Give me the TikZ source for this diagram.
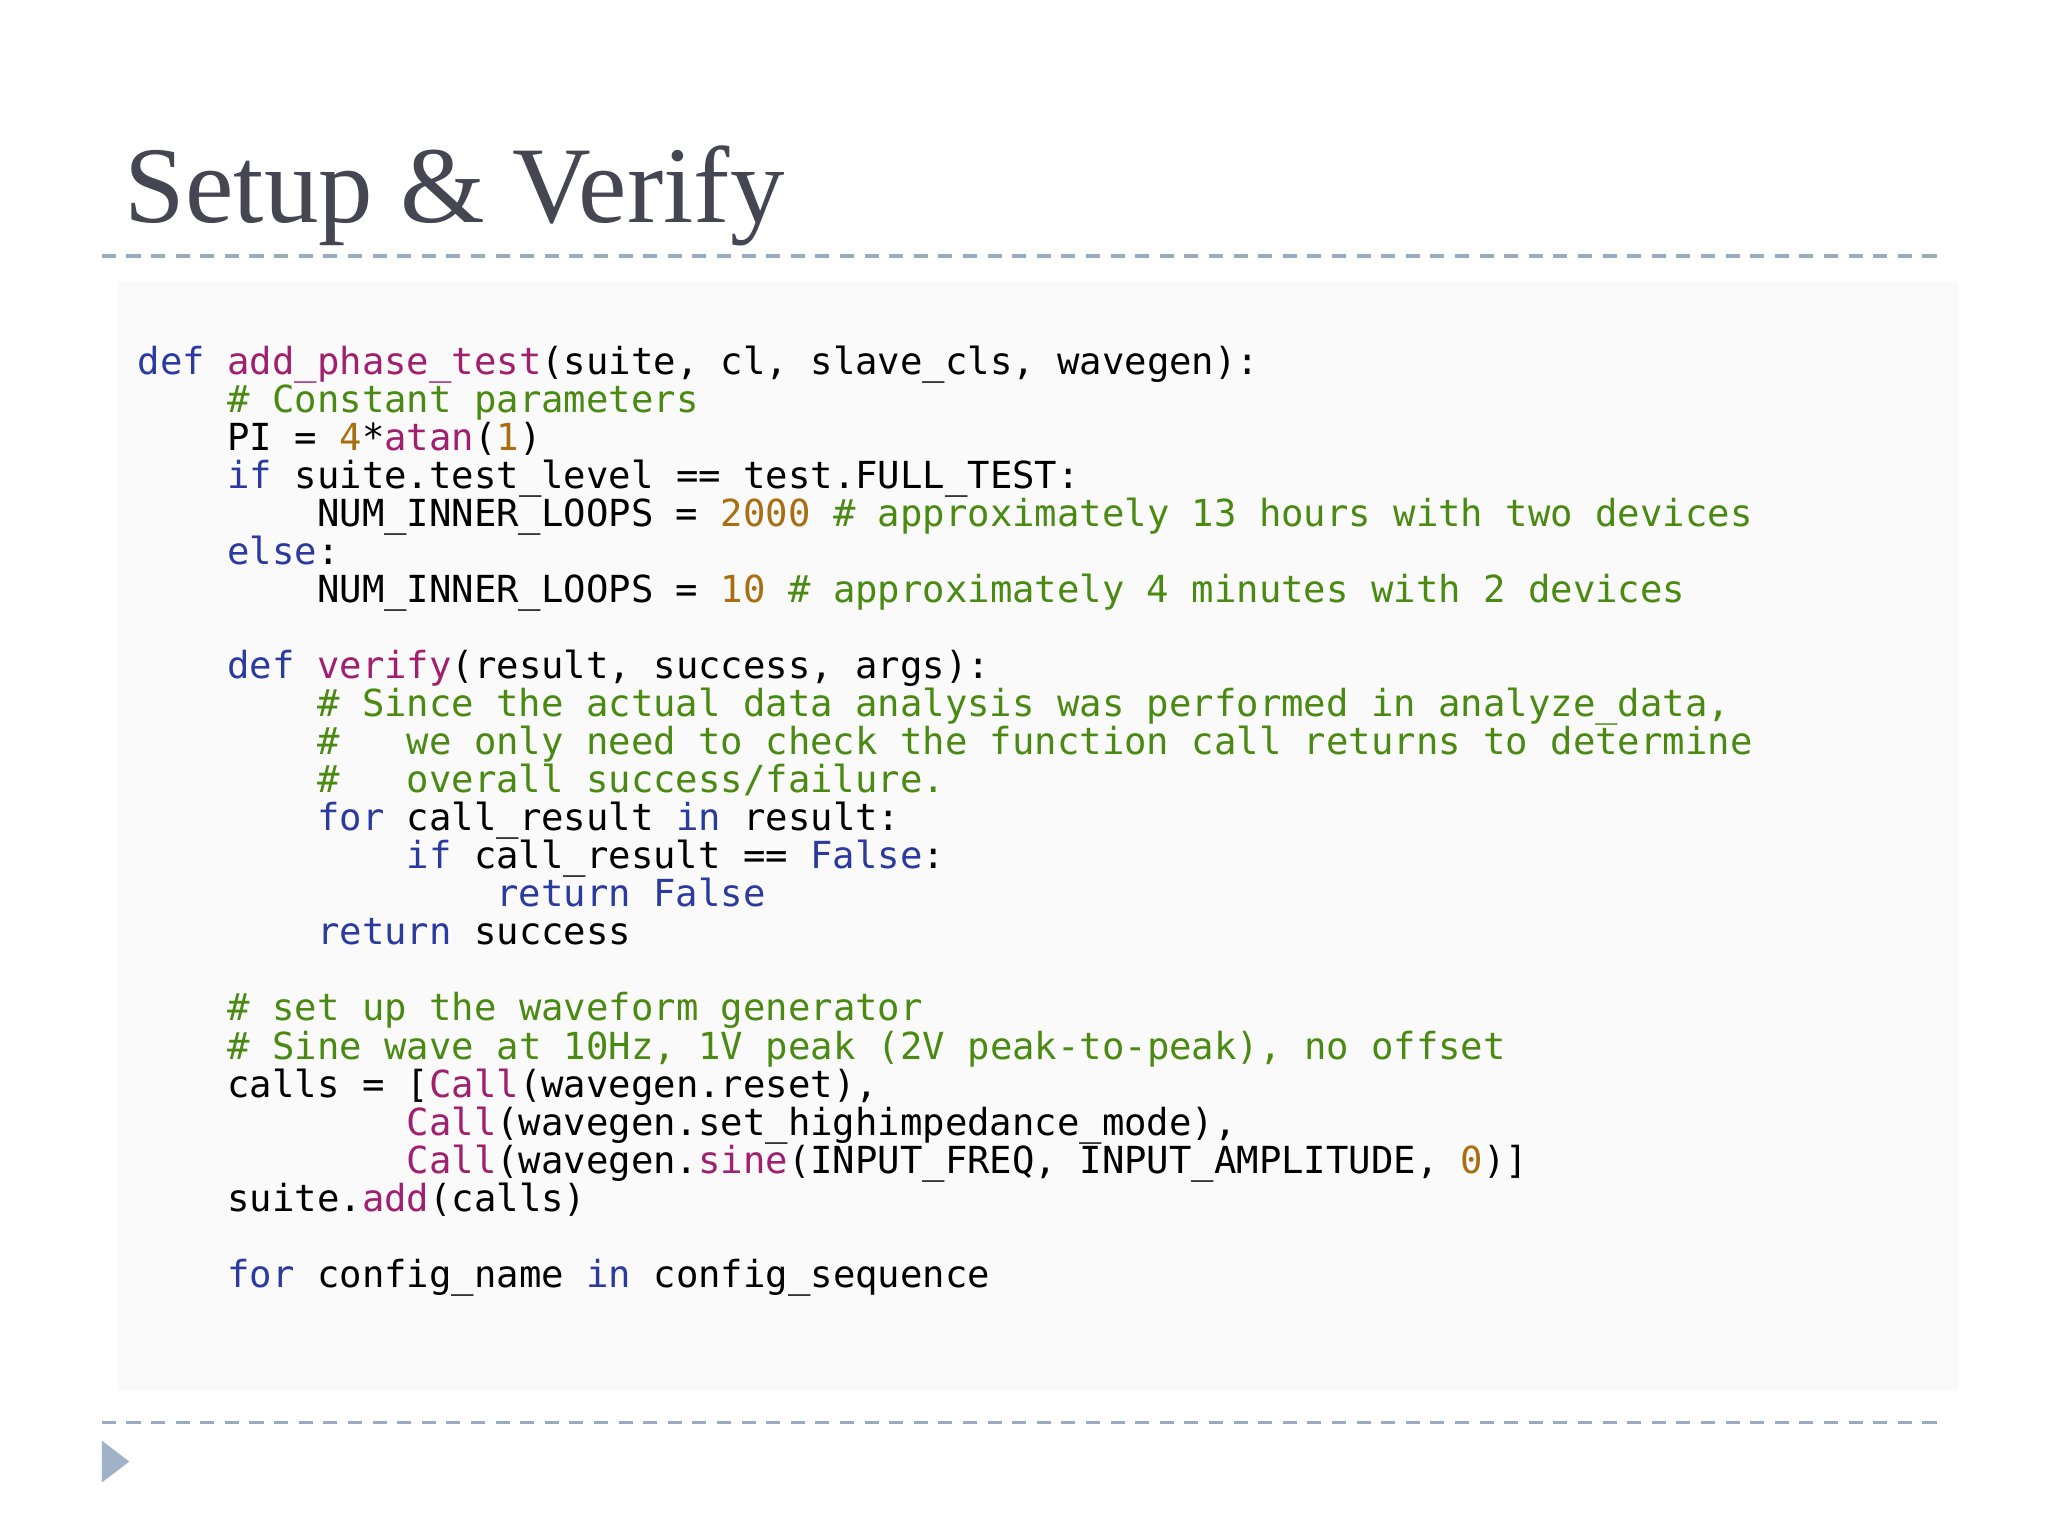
\documentclass[tikz,border=0pt]{standalone}
\usepackage{fontspec}
\setmainfont{Liberation Serif}
\setmonofont{DejaVu Sans Mono}
\definecolor{kwc}{HTML}{2A3A9E}
\definecolor{fnc}{HTML}{A0206F}
\definecolor{cmc}{HTML}{4A8A12}
\definecolor{nmc}{HTML}{A86E10}
\definecolor{titc}{HTML}{464652}
\definecolor{rulec}{HTML}{9AAAC0}
\definecolor{tric}{HTML}{9FB2C8}
\newcommand{\Kw}[1]{\textcolor{kwc}{#1}}
\newcommand{\Fn}[1]{\textcolor{fnc}{#1}}
\newcommand{\Cm}[1]{\textcolor{cmc}{#1}}
\newcommand{\Nm}[1]{\textcolor{nmc}{#1}}
\begin{document}
\begin{tikzpicture}[x=0.01306cm,y=-0.01306cm,
  code/.style={anchor=base west,inner sep=0,font=\ttfamily\fontsize{10.6}{12}\selectfont,text=black},
  rulel/.style={draw=rulec,line width=0.9pt,dash pattern=on 4pt off 3pt}]
\useasboundingbox (0,0) rectangle (1568,1176);
\fill[white] (0,0) rectangle (1568,1176);
\fill[black!2] (90,215) rectangle (1500,1065);
\node[anchor=base west,inner sep=0,text=titc,font=\fontsize{31}{36}\selectfont] (title) at (95,170) {Setup \& Verify};
\coordinate (r1a) at (78,196); \coordinate (r1b) at (1490,196);
\coordinate (r2a) at (78,1089); \coordinate (r2b) at (1490,1089);
\draw[rulel] (r1a) -- (r1b);
\draw[rulel] (r2a) -- (r2b);
\fill[tric] (78,1103) -- (99,1119) -- (78,1135) -- cycle;
\def\cw{17.16}
\def\lh{29.1}
\node[code] (l0) at (105+0*\cw,287+0*\lh) {\Kw{def} \Fn{add\_phase\_test}(suite, cl, slave\_cls, wavegen):};
\node[code] (l1) at (105+4*\cw,287+1*\lh) {\Cm{\# Constant parameters}};
\node[code] (l2) at (105+4*\cw,287+2*\lh) {PI = \Nm{4}*\Fn{atan}(\Nm{1})};
\node[code] (l3) at (105+4*\cw,287+3*\lh) {\Kw{if} suite.test\_level == test.FULL\_TEST:};
\node[code] (l4) at (105+8*\cw,287+4*\lh) {NUM\_INNER\_LOOPS = \Nm{2000} \Cm{\# approximately 13 hours with two devices}};
\node[code] (l5) at (105+4*\cw,287+5*\lh) {\Kw{else}:};
\node[code] (l6) at (105+8*\cw,287+6*\lh) {NUM\_INNER\_LOOPS = \Nm{10} \Cm{\# approximately 4 minutes with 2 devices}};
\node[code] (l8) at (105+4*\cw,287+8*\lh) {\Kw{def} \Fn{verify}(result, success, args):};
\node[code] (l9) at (105+8*\cw,287+9*\lh) {\Cm{\# Since the actual data analysis was performed in analyze\_data,}};
\node[code] (l10) at (105+8*\cw,287+10*\lh) {\Cm{\#\ \ \ we only need to check the function call returns to determine}};
\node[code] (l11) at (105+8*\cw,287+11*\lh) {\Cm{\#\ \ \ overall success/failure.}};
\node[code] (l12) at (105+8*\cw,287+12*\lh) {\Kw{for} call\_result \Kw{in} result:};
\node[code] (l13) at (105+12*\cw,287+13*\lh) {\Kw{if} call\_result == \Kw{False}:};
\node[code] (l14) at (105+16*\cw,287+14*\lh) {\Kw{return False}};
\node[code] (l15) at (105+8*\cw,287+15*\lh) {\Kw{return} success};
\node[code] (l17) at (105+4*\cw,287+17*\lh) {\Cm{\# set up the waveform generator}};
\node[code] (l18) at (105+4*\cw,287+18*\lh) {\Cm{\# Sine wave at 10Hz, 1V peak (2V peak-to-peak), no offset}};
\node[code] (l19) at (105+4*\cw,287+19*\lh) {calls = [\Fn{Call}(wavegen.reset),};
\node[code] (l20) at (105+12*\cw,287+20*\lh) {\Fn{Call}(wavegen.set\_highimpedance\_mode),};
\node[code] (l21) at (105+12*\cw,287+21*\lh) {\Fn{Call}(wavegen.\Fn{sine}(INPUT\_FREQ, INPUT\_AMPLITUDE, \Nm{0})]};
\node[code] (l22) at (105+4*\cw,287+22*\lh) {suite.\Fn{add}(calls)};
\node[code] (l24) at (105+4*\cw,287+24*\lh) {\Kw{for} config\_name \Kw{in} config\_sequence};
\end{tikzpicture}
\end{document}
